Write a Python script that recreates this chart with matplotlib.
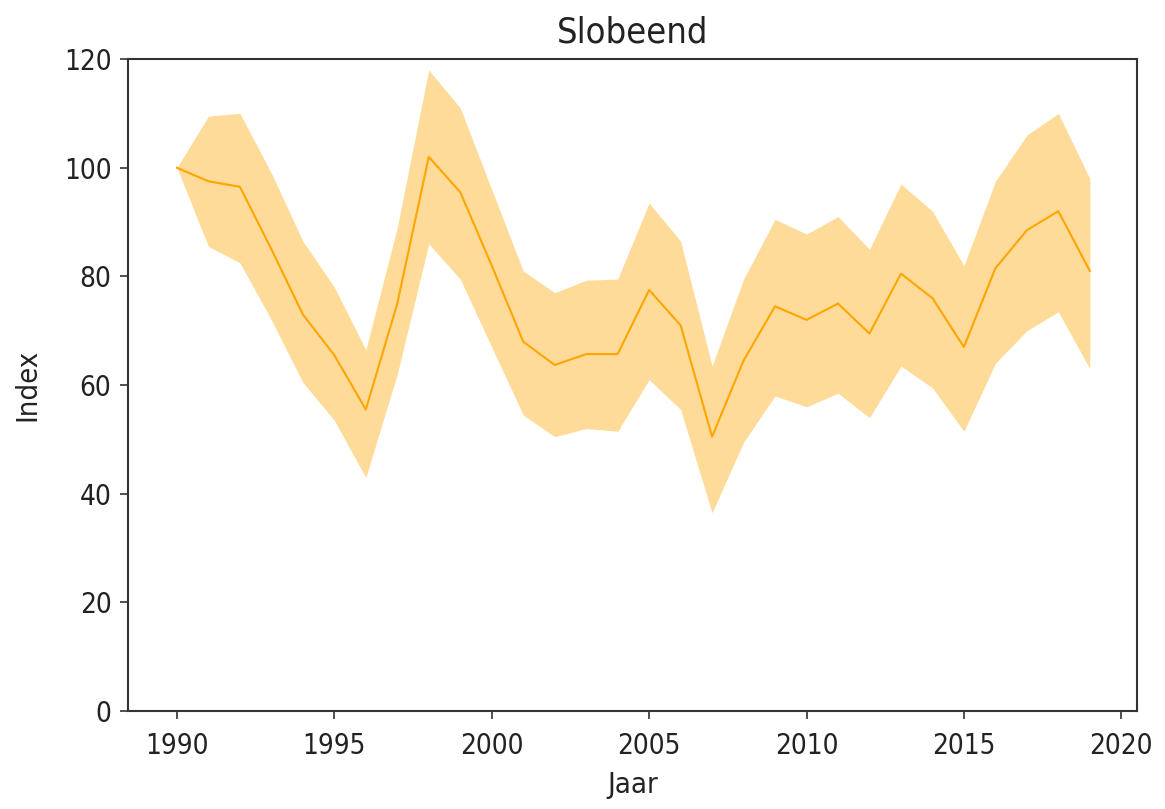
import matplotlib
matplotlib.use("Agg")
import matplotlib.pyplot as plt

# Slobeend index per year, with confidence band
years = list(range(1990, 2020))
index = [100, 97.5, 96.5, 85, 73, 65.5, 55.5, 75, 102, 95.5,
         82, 68, 63.7, 65.7, 65.7, 77.5, 71, 50.5, 64.5, 74.5,
         72, 75, 69.5, 80.5, 76, 67, 81.5, 88.5, 92, 81]
upper = [100, 109.5, 110, 99, 86.5, 78, 66.5, 89, 118, 111,
         96, 81, 77, 79.3, 79.5, 93.5, 86.5, 63.5, 79.5, 90.5,
         87.8, 91, 85, 97, 92, 82, 97.5, 106, 110, 98]
lower = [100, 85.5, 82.5, 72, 60.5, 53.5, 43, 62, 86, 79.5,
         67, 54.5, 50.5, 52, 51.5, 61, 55.5, 36.5, 49.5, 58,
         56, 58.5, 54, 63.5, 59.5, 51.5, 64, 70, 73.5, 63]

plt.rcParams['font.family'] = ['DejaVu Sans']
plt.rcParams['font.stretch'] = 'condensed'
fig, ax = plt.subplots(figsize=(11.65, 8.09), dpi=100)
fig.subplots_adjust(left=0.11, right=0.976, top=0.927, bottom=0.121)

ax.fill_between(years, lower, upper, color='orange', alpha=0.4, linewidth=0)
ax.plot(years, index, color='orange', linewidth=1.5)

ax.set_xlim(1988.45, 2020.5)
ax.set_ylim(0, 120)
ax.set_xticks([1990, 1995, 2000, 2005, 2010, 2015, 2020])
ax.tick_params(labelsize=20, length=6, width=1.2, color='#333333', labelcolor='#222222')
ax.tick_params(axis='x', pad=9)
ax.tick_params(axis='y', pad=6)
for s in ax.spines.values():
    s.set_linewidth(1.5)
    s.set_color('#333333')

ax.set_title("Slobeend", fontsize=26, color='#222222', pad=12)
ax.set_xlabel("Jaar", fontsize=21, color='#222222', labelpad=8)
ax.set_ylabel("Index", fontsize=21, color='#222222', labelpad=16)

plt.savefig('out.png', dpi=100)
